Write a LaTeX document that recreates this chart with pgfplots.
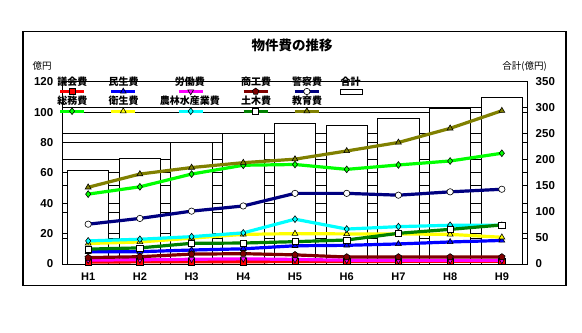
\documentclass[border=0pt]{standalone}
\usepackage{fontspec}
\setmainfont{Liberation Sans}
\newfontfamily\jp{Noto Sans CJK JP}
\usepackage{pgfplots}
\pgfplotsset{compat=1.18}
\usetikzlibrary{plotmarks}
\definecolor{cRed}{RGB}{255,0,0}
\definecolor{cBlue}{RGB}{0,0,255}
\definecolor{cMag}{RGB}{255,0,255}
\definecolor{cDRed}{RGB}{128,0,0}
\definecolor{cNavy}{RGB}{0,0,128}
\definecolor{cGreen}{RGB}{0,255,0}
\definecolor{cYel}{RGB}{255,255,0}
\definecolor{cCyan}{RGB}{0,255,255}
\definecolor{cDGreen}{RGB}{0,128,0}
\definecolor{cOlive}{RGB}{128,128,0}
\pgfplotsset{
  base/.style={at={(0,0)}, anchor=south west, scale only axis,
    width=465.4bp, height=182.3bp, xmin=-0.5, xmax=8.5,
    major tick length=0pt,
    /pgf/number format/assume math mode=true},
  leg/.style={legend image code/.code={\path (0pt,0pt);
     \draw[overlay,mark repeat=2,mark phase=2] plot coordinates {(#1-12bp,-9.3bp) (#1,-9.3bp) (#1+12bp,-9.3bp)};}},
  ser/.style={line width=3.2bp, mark size=3.4pt},
}
\begin{document}
\begin{tikzpicture}
\path[use as bounding box] (-62.3bp,-69bp) rectangle (519.7bp,264bp);
% left axis: frame and grid
\begin{axis}[base, ymin=0, ymax=120, ytick={0,20,...,120},
  xtick={0,...,8}, xticklabels={H1,H2,H3,H4,H5,H6,H7,H8,H9},
  ymajorgrids, grid style={black, line width=0.8pt},
  axis line style={line width=0.8pt},
  yticklabel style={font=\bfseries\fontsize{11.5bp}{13bp}\selectfont, xshift=-5.5bp},
  xticklabel style={font=\bfseries\fontsize{11bp}{13bp}\selectfont, yshift=-5bp}]
\addplot[draw=none] coordinates {(0,0)};
\end{axis}
% right axis: totals as bars
\begin{axis}[base, ymin=0, ymax=350, ytick={0,50,...,350},
  axis x line=none, axis y line*=right,
  ymajorgrids, grid style={black, line width=0.8pt},
  axis line style={line width=0.8pt},
  yticklabel style={font=\bfseries\fontsize{11.5bp}{13bp}\selectfont, xshift=4.5bp},
  ybar, bar width=0.8]
\addplot[fill=white, draw=black, line width=0.8pt] coordinates
  {(0,180) (1,203) (2,233) (3,251) (4,270) (5,267) (6,280) (7,299) (8,320)};
\end{axis}
% series
\begin{axis}[base, ymin=0, ymax=120, hide axis, clip=false,
  legend columns=6, legend cell align=center,
  legend style={at={(-0.0178,1.0258)}, anchor=north west, draw=none, fill=none,
    inner sep=0pt, row sep=9.7bp, column sep=0pt,
    font=\jp\bfseries\fontsize{10bp}{12bp}\selectfont,
    nodes={inner sep=0pt, text height=8bp, text depth=2bp},
    /tikz/every even column/.append style={column sep=18bp}}]
\addplot[ser, cRed, mark=square*, mark size=3.1pt, mark options={solid, fill=cRed, draw=black, line width=0.6pt}, leg=16.25bp]
  coordinates {(0,1.3) (1,1.4) (2,1.5) (3,1.5) (4,1.6) (5,1.7) (6,1.7) (7,1.8) (8,1.8)};
\addlegendentry{議会費}
\addplot[ser, cBlue, mark=triangle*, mark options={solid, fill=cBlue, draw=black, line width=0.6pt}, leg=16.25bp]
  coordinates {(0,8.0) (1,8.1) (2,9.2) (3,10.0) (4,12.0) (5,12.3) (6,13.2) (7,14.5) (8,15.5)};
\addlegendentry{民生費}
\addplot[ser, cMag, mark=triangle*, mark options={solid, rotate=180, fill=cMag, draw=black, line width=0.6pt}, leg=32.5bp]
  coordinates {(0,2.6) (1,2.8) (2,3.1) (3,3.4) (4,3.0) (5,2.5) (6,2.4) (7,2.4) (8,2.4)};
\addlegendentry{労働費}
\addplot[ser, cDRed, mark=pentagon*, mark options={solid, fill=cDRed, draw=black, line width=0.6pt}, leg=16.25bp]
  coordinates {(0,4.2) (1,4.8) (2,6.5) (3,6.8) (4,6.0) (5,4.6) (6,4.6) (7,4.6) (8,4.6)};
\addlegendentry{商工費}
\addplot[ser, cNavy, mark=*, mark size=3.2pt, mark options={solid, fill=white, draw=black, line width=0.6pt}, leg=16.25bp]
  coordinates {(0,26.2) (1,30.0) (2,34.8) (3,38.2) (4,46.5) (5,46.5) (6,45.3) (7,47.5) (8,49.2)};
\addlegendentry{警察費}
\addlegendimage{legend image code/.code={\path (0pt,0pt);
  \draw[overlay, black, fill=white, line width=0.8pt] (-0.2bp,-11.8bp) rectangle (21.8bp,-6.8bp);}}
\addlegendentry{合計}
\addplot[ser, cGreen, mark=diamond*, mark options={solid, fill=cGreen, draw=black, line width=0.6pt}, leg=16.25bp]
  coordinates {(0,46.0) (1,50.8) (2,59.2) (3,65.0) (4,65.5) (5,62.3) (6,65.2) (7,67.8) (8,72.9)};
\addlegendentry{総務費}
\addplot[ser, cYel, mark=triangle*, mark options={solid, fill=cYel, draw=black, line width=0.6pt}, leg=16.25bp]
  coordinates {(0,13.5) (1,14.5) (2,17.0) (3,19.5) (4,20.0) (5,19.8) (6,19.8) (7,19.5) (8,17.6)};
\addlegendentry{衛生費}
\addplot[ser, cCyan, mark=diamond*, mark options={solid, fill=cCyan, draw=black, line width=0.6pt}, leg=32.5bp]
  coordinates {(0,15.2) (1,16.3) (2,18.0) (3,20.5) (4,29.5) (5,23.0) (6,24.6) (7,25.5) (8,25.5)};
\addlegendentry{農林水産業費}
\addplot[ser, cDGreen, mark=square*, mark size=3.1pt, mark options={solid, fill=white, draw=black, line width=0.6pt}, leg=16.25bp]
  coordinates {(0,9.8) (1,10.6) (2,13.6) (3,13.8) (4,14.7) (5,15.8) (6,20.2) (7,22.8) (8,25.7)};
\addlegendentry{土木費}
\addplot[ser, cOlive, mark=triangle*, mark options={solid, fill=cOlive, draw=black, line width=0.6pt}, leg=16.25bp]
  coordinates {(0,50.5) (1,59.2) (2,63.5) (3,66.7) (4,69.0) (5,74.4) (6,80.0) (7,89.3) (8,100.9)};
\addlegendentry{教育費}
\end{axis}
% titles and frame
\node[font=\jp\bfseries\fontsize{13.5bp}{15bp}\selectfont] at (229.7bp,219bp) {物件費の推移};
\node[font=\jp\fontsize{9.5bp}{11bp}\selectfont] at (-20.3bp,198bp) {億円};
\node[font=\jp\fontsize{9.5bp}{11bp}\selectfont] at (462.2bp,197.3bp) {合計(億円)};
\draw[line width=1.2bp] (-39.3bp,-21.7bp) rectangle (503.7bp,232.3bp);
\end{tikzpicture}
\end{document}
